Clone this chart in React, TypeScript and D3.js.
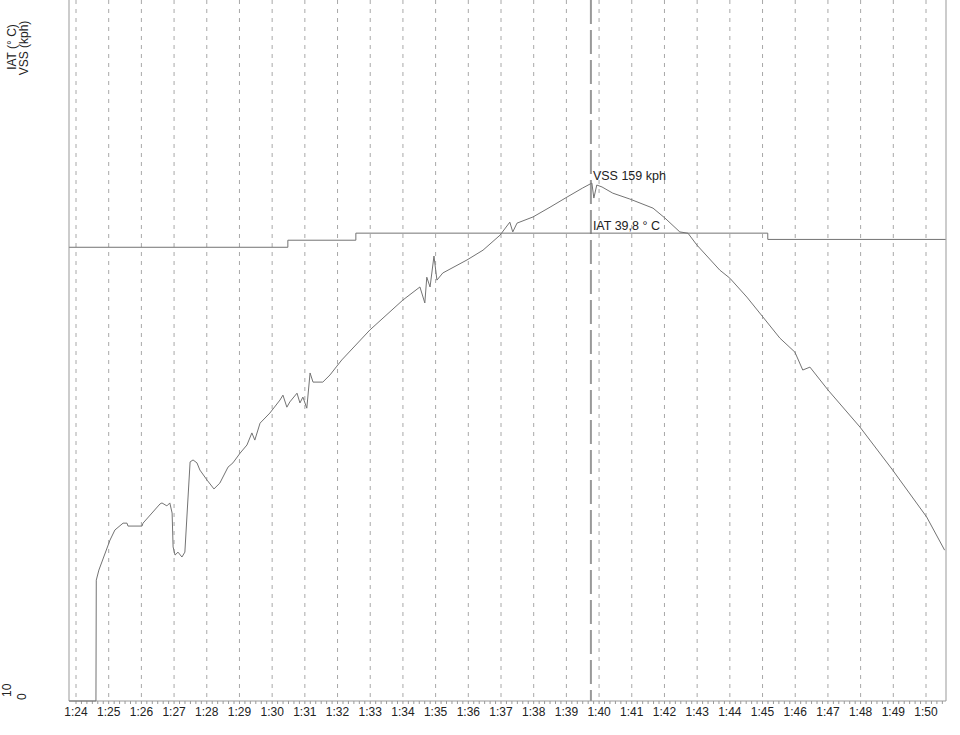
import React from "react";
import * as d3 from "d3";

// time in minutes (84 = 1:24)
const vssTime = [83.79, 84.61, 84.62, 84.70, 85.04, 85.19, 85.44, 85.56, 85.59, 86.02, 86.05, 86.57, 86.63, 86.78, 86.87, 86.94, 86.97, 87.03, 87.12, 87.24, 87.33, 87.49, 87.58, 87.70, 87.79, 88.01, 88.22, 88.40, 88.65, 88.80, 89.02, 89.23, 89.38, 89.47, 89.63, 89.93, 90.24, 90.33, 90.45, 90.54, 90.76, 90.85, 90.94, 91.06, 91.16, 91.25, 91.55, 91.77, 91.98, 92.13, 92.99, 94.00, 94.52, 94.67, 94.73, 94.83, 94.95, 95.04, 95.22, 95.96, 96.45, 96.97, 97.27, 97.36, 97.49, 97.98, 98.50, 99.02, 99.50, 99.78, 99.84, 99.93, 100.09, 100.42, 100.94, 101.65, 102.01, 102.47, 102.72, 102.99, 103.69, 104.00, 104.52, 105.01, 105.53, 105.99, 106.23, 106.45, 107.00, 107.98, 108.98, 110.02, 110.57];
const vssValue = [0, 0, 37.1, 40.2, 49.4, 52.5, 54.6, 54.6, 53.7, 53.7, 54.6, 60.5, 60.8, 59.9, 60.8, 57.7, 47.3, 44.8, 45.7, 44.2, 45.7, 73.4, 74.0, 73.1, 70.9, 67.8, 65.1, 66.9, 71.8, 73.1, 76.1, 78.6, 82.3, 80.1, 85.3, 88.4, 92.4, 93.9, 90.2, 91.8, 94.5, 91.5, 93.3, 89.9, 100.7, 97.9, 97.9, 100.1, 102.8, 104.7, 113.9, 123.1, 127.1, 122.2, 130.1, 127.1, 136.6, 129.2, 131.4, 135.4, 138.4, 143.0, 147.0, 144.0, 146.7, 148.6, 151.6, 154.7, 157.5, 159.0, 154.4, 158.4, 157.8, 155.9, 154.1, 151.3, 148.3, 144.0, 143.6, 140.0, 132.3, 129.8, 124.0, 117.9, 111.4, 107.1, 101.6, 102.5, 95.5, 84.1, 70.9, 56.5, 46.3];

const iatTime = [83.79, 90.48, 90.48, 92.56, 92.56, 105.16, 105.16, 110.6];
const iatValue = [38.9, 38.9, 39.35, 39.35, 39.8, 39.8, 39.4, 39.4];

const minuteTicks = d3.range(84, 111);
const cursorTime = 99.75;
const vssLabel = "VSS 159 kph";
const iatLabel = "IAT 39,8 ° C";
const axisTitles = ["IAT (° C)", "VSS (kph)"];
const axisMins = ["10", "0"];

const W = 960, H = 735;
const left = 69, right = 946, bottom = 701;
const font = "'Liberation Sans', Arial, sans-serif";

export default function App() {
  const x = d3.scaleLinear().domain([84, 110]).range([76, 926]);
  const yV = d3.scaleLinear().domain([0, 215.2]).range([bottom, 0]);
  const yI = d3.scaleLinear().domain([10, 54.65]).range([bottom, 0]);
  const vssLine = d3.line<number>().x((d, i) => x(vssTime[i])).y((d) => yV(d));
  const iatLine = d3.line<number>().x((d, i) => x(iatTime[i])).y((d) => yI(d));
  const minor = d3.range(84 * 6, 110 * 6 + 4).map((v) => v / 6);
  const grid = "#a8a8a8";
  const lineC = "#737373";
  return (
    <svg width={W} height={H} style={{ position: "absolute", left: 0, top: 0, background: "#fff" }} fontFamily={font}>
      <rect x={0} y={0} width={W} height={H} fill="#fff" />
      {minuteTicks.map((m) => (
        <line key={m} x1={x(m)} x2={x(m)} y1={0} y2={bottom} stroke={grid} strokeWidth={1} strokeDasharray="4,5" />
      ))}
      {minor.map((m, i) => (
        <line key={"mi" + i} x1={x(m)} x2={x(m)} y1={bottom} y2={bottom + 3} stroke="#999" strokeWidth={1} />
      ))}
      <line x1={left} x2={left} y1={0} y2={bottom} stroke="#999" strokeWidth={1} />
      <line x1={right} x2={right} y1={0} y2={bottom} stroke="#bbb" strokeWidth={1.5} />
      <line x1={left} x2={right} y1={bottom} y2={bottom} stroke="#999" strokeWidth={1} />
      <line x1={x(cursorTime)} x2={x(cursorTime)} y1={0} y2={bottom} stroke="#999" strokeWidth={2} strokeDasharray="24,6" />
      <path d={iatLine(iatValue) || ""} fill="none" stroke={lineC} strokeWidth={1} />
      <path d={vssLine(vssValue) || ""} fill="none" stroke={lineC} strokeWidth={1} />
      <text x={x(cursorTime) + 2} y={180} fontSize={12.5} fill="#222">{vssLabel}</text>
      <text x={x(cursorTime) + 2} y={230} fontSize={12.5} fill="#222">{iatLabel}</text>
      {minuteTicks.map((m) => (
        <text key={"l" + m} x={x(m)} y={716} fontSize={12} fill="#222" textAnchor="middle">{`1:${m - 60}`}</text>
      ))}
      <text transform="translate(16,47) rotate(-90)" fontSize={12} fill="#222" textAnchor="middle">{axisTitles[0]}</text>
      <text transform="translate(28,48) rotate(-90)" fontSize={12} fill="#222" textAnchor="middle">{axisTitles[1]}</text>
      <text transform="translate(11,697) rotate(-90)" fontSize={12} fill="#222" textAnchor="start">{axisMins[0]}</text>
      <text transform="translate(26,700) rotate(-90)" fontSize={12} fill="#222" textAnchor="start">{axisMins[1]}</text>
    </svg>
  );
}
